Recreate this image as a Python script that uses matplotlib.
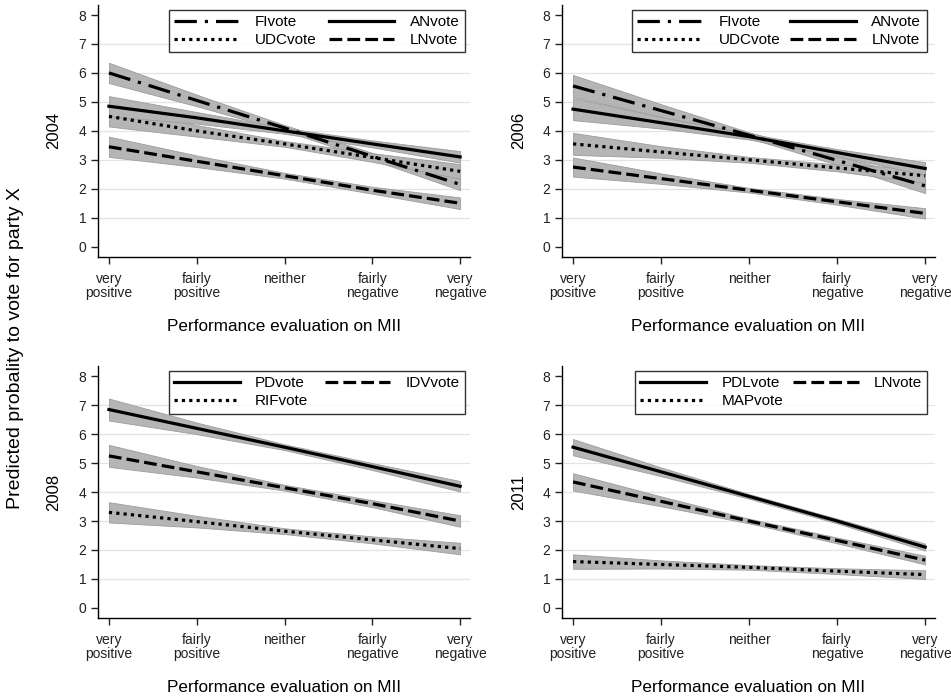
import matplotlib
matplotlib.use("Agg")
import matplotlib.pyplot as plt
import numpy as np

plt.rcParams['font.family'] = ['Liberation Sans', 'DejaVu Sans']

categories = ["very\npositive", "fairly\npositive", "neither", "fairly\nnegative", "very\nnegative"]
y_ticks = [0, 1, 2, 3, 4, 5, 6, 7, 8]

# 2004
fi_2004 = [6.0, 5.05, 4.1, 3.12, 2.15]
fi_2004_hw = [0.35, 0.2, 0.1, 0.12, 0.2]
an_2004 = [4.85, 4.45, 4.0, 3.55, 3.1]
an_2004_hw = [0.35, 0.2, 0.1, 0.12, 0.2]
udc_2004 = [4.5, 4.0, 3.55, 3.08, 2.6]
udc_2004_hw = [0.35, 0.2, 0.1, 0.15, 0.25]
ln_2004 = [3.45, 2.95, 2.45, 1.95, 1.5]
ln_2004_hw = [0.35, 0.2, 0.1, 0.12, 0.2]

# 2006
fi_2006 = [5.55, 4.7, 3.85, 2.98, 2.1]
fi_2006_hw = [0.38, 0.22, 0.1, 0.15, 0.25]
an_2006 = [4.75, 4.28, 3.8, 3.25, 2.7]
an_2006_hw = [0.38, 0.2, 0.1, 0.12, 0.22]
udc_2006 = [3.55, 3.27, 3.0, 2.72, 2.45]
udc_2006_hw = [0.38, 0.2, 0.1, 0.12, 0.25]
ln_2006 = [2.75, 2.35, 1.95, 1.55, 1.15]
ln_2006_hw = [0.33, 0.18, 0.08, 0.1, 0.18]

# 2008
pd_2008 = [6.85, 6.2, 5.55, 4.88, 4.2]
pd_2008_hw = [0.38, 0.2, 0.1, 0.12, 0.18]
idv_2008 = [5.25, 4.7, 4.15, 3.6, 3.0]
idv_2008_hw = [0.38, 0.2, 0.1, 0.12, 0.2]
rif_2008 = [3.3, 2.98, 2.65, 2.35, 2.05]
rif_2008_hw = [0.35, 0.2, 0.1, 0.12, 0.2]

# 2011
pdl_2011 = [5.55, 4.7, 3.85, 3.0, 2.1]
pdl_2011_hw = [0.28, 0.15, 0.08, 0.08, 0.12]
ln_2011 = [4.35, 3.68, 3.0, 2.33, 1.65]
ln_2011_hw = [0.3, 0.17, 0.08, 0.1, 0.15]
map_2011 = [1.6, 1.5, 1.4, 1.27, 1.15]
map_2011_hw = [0.25, 0.14, 0.08, 0.1, 0.15]

years = ["2004", "2006", "2008", "2011"]

STY = {
    'FI': (0, (7, 2.5, 1, 2.5)),
    'AN': '-',
    'UDC': (0, (1, 1.3)),
    'LN': (0, (4, 1.6)),
    'PD': '-',
    'IDV': (0, (4, 1.6)),
    'RIF': (0, (1, 1.3)),
    'PDL': '-',
    'MAP': (0, (1, 1.3)),
}

panels = [
    ("2004", [("FIvote", fi_2004, fi_2004_hw, STY['FI']),
              ("UDCvote", udc_2004, udc_2004_hw, STY['UDC']),
              ("ANvote", an_2004, an_2004_hw, STY['AN']),
              ("LNvote", ln_2004, ln_2004_hw, STY['LN'])],
     [0.103, 0.631, 0.391, 0.362], (0.19, 0.82, 0.797, 0.16)),
    ("2006", [("FIvote", fi_2006, fi_2006_hw, STY['FI']),
              ("UDCvote", udc_2006, udc_2006_hw, STY['UDC']),
              ("ANvote", an_2006, an_2006_hw, STY['AN']),
              ("LNvote", ln_2006, ln_2006_hw, STY['LN'])],
     [0.591, 0.631, 0.392, 0.362], (0.188, 0.82, 0.79, 0.16)),
    ("2008", [("PDvote", pd_2008, pd_2008_hw, STY['PD']),
              ("RIFvote", rif_2008, rif_2008_hw, STY['RIF']),
              ("IDVvote", idv_2008, idv_2008_hw, STY['IDV'])],
     [0.103, 0.112, 0.391, 0.362], (0.19, 0.82, 0.797, 0.16)),
    ("2011", [("PDLvote", pdl_2011, pdl_2011_hw, STY['PDL']),
              ("MAPvote", map_2011, map_2011_hw, STY['MAP']),
              ("LNvote", ln_2011, ln_2011_hw, STY['LN'])],
     [0.591, 0.112, 0.392, 0.362], (0.196, 0.82, 0.784, 0.16)),
]

fig = plt.figure(figsize=(9.51, 6.96), dpi=100)
x = np.arange(1, len(categories) + 1)

for year, series, pos, lbox in panels:
    ax = fig.add_axes(pos)
    for name, vals, hw, ls in series:
        v = np.array(vals)
        h = np.array(hw)
        ax.fill_between(x, v - h, v + h, facecolor='#b5b5b5', edgecolor='#9d9d9d',
                        linewidth=0.6, zorder=2)
    for name, vals, hw, ls in series:
        ax.plot(x, vals, color='black', linestyle=ls, linewidth=2.3,
                label=name, zorder=3)
    for yy in y_ticks[1:-1]:
        ax.axhline(yy, color='#e4e4e4', linewidth=0.9, zorder=1)
    ax.set_xlim(0.875, 5.11)
    ax.set_ylim(-0.35, 8.35)
    ax.set_yticks(y_ticks)
    ax.set_xticks(x)
    ax.set_xticklabels(categories, fontsize=10, linespacing=0.95, va='top')
    ax.tick_params(axis='both', direction='out', length=5, width=1, labelsize=10,
                   colors='#222222')
    ax.tick_params(axis='x', pad=6)
    for s in ['top', 'right']:
        ax.spines[s].set_visible(False)
    for s in ['left', 'bottom']:
        ax.spines[s].set_linewidth(1.0)
    ax.set_ylabel(year, fontsize=12, labelpad=12)
    ax.set_xlabel("Performance evaluation on MII", fontsize=12.3, labelpad=14)
    leg = ax.legend(loc='upper left', bbox_to_anchor=lbox, mode='expand', ncol=2,
                    fontsize=11, frameon=True, fancybox=False, handlelength=4.3,
                    handletextpad=1.0, borderpad=0.35, labelspacing=0.25,
                    edgecolor='black', borderaxespad=0)
    leg.get_frame().set_linewidth(1.0)

fig.text(0.016, 0.5, "Predicted probality to vote for party X", rotation=90,
         va='center', ha='center', fontsize=14)

fig.savefig("out.png", dpi=100)
